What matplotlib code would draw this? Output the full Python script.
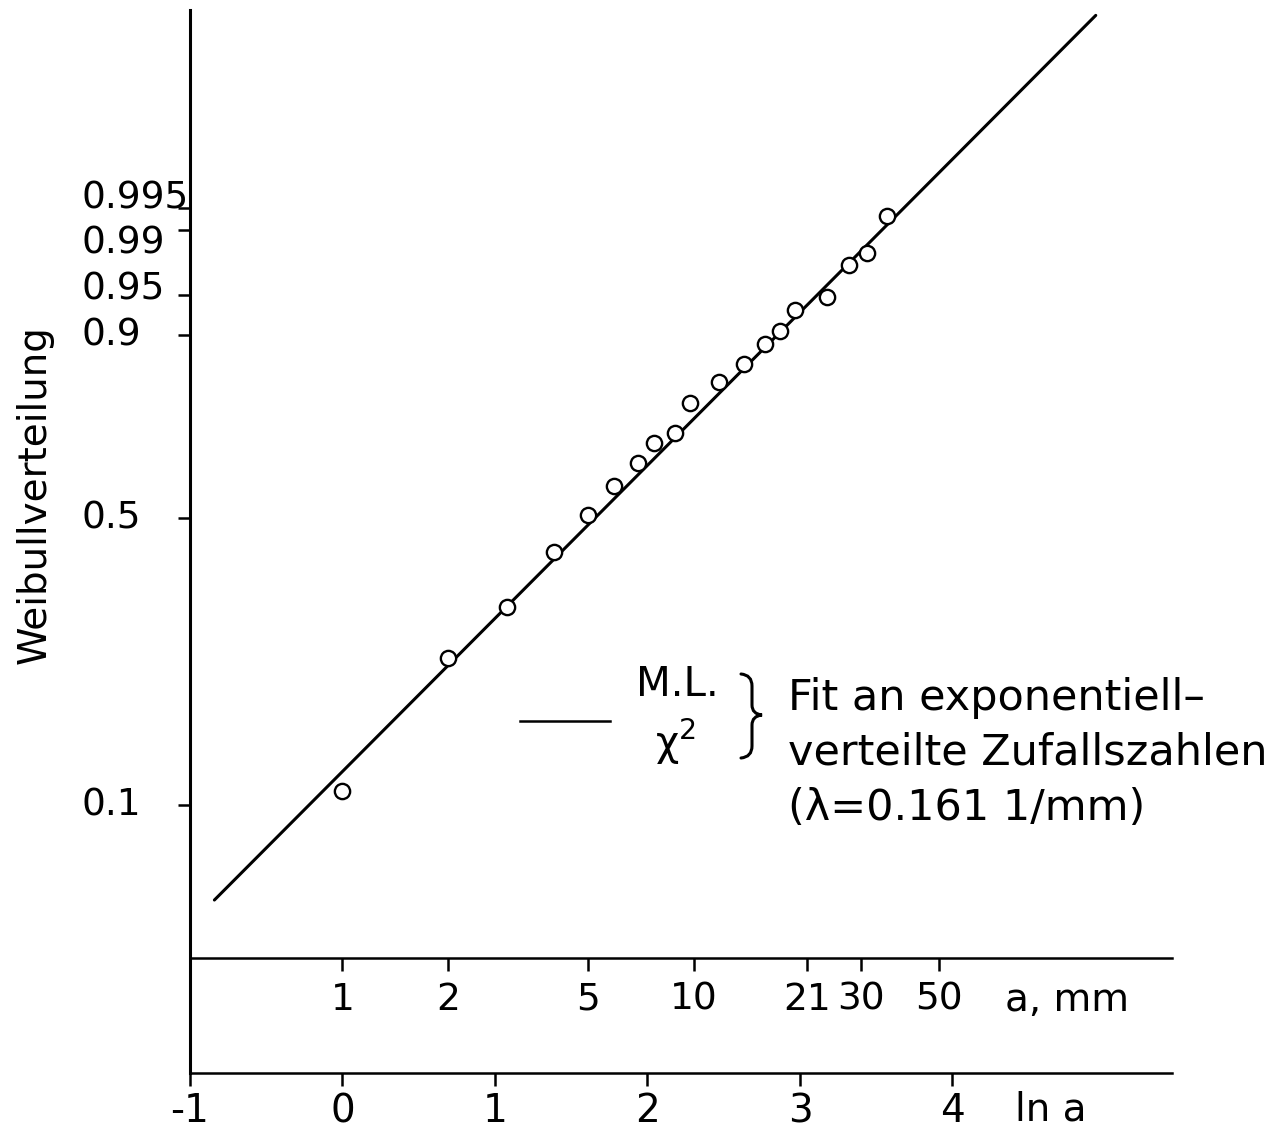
import numpy as np
import matplotlib.pyplot as plt
import matplotlib.transforms as mtransforms
from matplotlib.path import Path
from matplotlib.patches import PathPatch

plt.rcParams['font.family'] = 'DejaVu Sans'
plt.rcParams['axes.unicode_minus'] = False

#Messpunkte: ln a und empirische Verteilungsfunktion
ln_a = [0.00, 0.69, 1.08, 1.39, 1.61, 1.78, 1.94, 2.04, 2.18, 2.28,
        2.47, 2.63, 2.77, 2.87, 2.97, 3.18, 3.32, 3.44, 3.57]
F_emp = [0.109, 0.241, 0.321, 0.426, 0.507, 0.575, 0.630, 0.678, 0.702, 0.771,
         0.816, 0.852, 0.887, 0.906, 0.934, 0.948, 0.974, 0.981, 0.9935]

#Fitgerade im Weibullnetz (M.L. / chi^2)
fit_steigung = 1.005
fit_abschnitt = -2.03
fit_ln_a = [-0.84, 4.94]

#Achsenbeschriftung
F_ticks = [0.1, 0.5, 0.9, 0.95, 0.99, 0.995]
F_labels = ["0.1", "0.5", "0.9", "0.95", "0.99", "0.995"]
F_versatz = [0, 0, 0, 4, -10, 7]   # Punkte, damit sich die Zahlen nicht ueberlappen
lna_ticks = [-1, 0, 1, 2, 3, 4]
lna_labels = ["-1", "0", "1", "2", "3", "4"]
a_ticks = [1, 2, 5, 10, 21, 30, 50]


def weibull(F):
    F = np.asarray(F, dtype=float)
    return np.log(-np.log(1.0 - F))


fig = plt.figure(figsize=(12.73, 11.46), dpi=100)
ax = fig.add_axes([190 / 1273, 1 - 1073 / 1146, 982 / 1273, 1063 / 1146])
ax.set_xlim(-1.0, 5.44)
ax.set_ylim(-4.01, 2.97)

#Gerade und Punkte
fit_x = np.array(fit_ln_a)
fit_y = fit_abschnitt + fit_steigung * fit_x
ax.plot(fit_x, fit_y, color='black', lw=2.2, solid_capstyle='round', zorder=2)
ax.plot(ln_a, weibull(F_emp), 'o', ms=11, mfc='white', mec='black', mew=1.7, zorder=3)

#Achsen
ax.spines[['top', 'right']].set_visible(False)
ax.spines['left'].set_linewidth(2.2)
ax.spines['bottom'].set_linewidth(1.8)

ax.set_xticks(lna_ticks, lna_labels)
ax.tick_params(axis='x', direction='out', length=9, width=1.8, pad=5, labelsize=28)
ax.set_yticks(weibull(F_ticks))
ax.tick_params(axis='y', direction='out', length=9, width=1.8, labelleft=False)

trans = mtransforms.blended_transform_factory(fig.transFigure, ax.transData)
for F, lbl, dy in zip(F_ticks, F_labels, F_versatz):
    ax.annotate(lbl, xy=(82 / 1273, weibull(F)), xycoords=trans,
                xytext=(0, dy), textcoords='offset points',
                ha='left', va='center', fontsize=27, annotation_clip=False)

#zweite Skala in mm
sec = ax.secondary_xaxis(0.108, functions=(np.exp, np.log))
sec.set_xticks(a_ticks)
sec.set_xticklabels([str(a) for a in a_ticks])
sec.tick_params(direction='out', length=9, width=1.8, pad=8, labelsize=27)
sec.spines['bottom'].set_linewidth(1.8)

ax.text(0.830, 0.0687, "a, mm", transform=ax.transAxes, ha='left', va='center', fontsize=28)
ax.text(0.840, -0.0348, "ln a", transform=ax.transAxes, ha='left', va='center', fontsize=28)

#Legende
ax.plot([0.336, 0.428], [0.3311, 0.3311], transform=ax.transAxes, color='black', lw=1.8)
ax.text(0.496, 0.365, "M.L.", transform=ax.transAxes, ha='center', va='center', fontsize=29)
ax.text(0.494, 0.3114, "χ$^2$", transform=ax.transAxes, ha='center', va='center', fontsize=29)

#geschweifte Klammer als Pfad (Pixel -> Achsenanteil)
def px(x, y):
    return ((x - 190) / 982, (1073 - y) / 1063)

klammer = [px(741, 674), px(752, 675), px(752, 686), px(752, 705), px(752, 705),
           px(752, 714), px(762, 715), px(752, 716), px(752, 725), px(752, 725),
           px(752, 746), px(752, 757), px(741, 758)]
codes = [Path.MOVETO, Path.CURVE3, Path.CURVE3, Path.LINETO, Path.LINETO,
         Path.CURVE3, Path.CURVE3, Path.CURVE3, Path.CURVE3, Path.LINETO,
         Path.LINETO, Path.CURVE3, Path.CURVE3]
ax.add_patch(PathPatch(Path(klammer, codes), transform=ax.transAxes,
                       fill=False, lw=2.2, ec='black', capstyle='round'))

ax.text(0.609, 0.3415, "Fit an exponentiell–", transform=ax.transAxes, ha='left', va='baseline', fontsize=31)
ax.text(0.609, 0.2898, "verteilte Zufallszahlen", transform=ax.transAxes, ha='left', va='baseline', fontsize=31)
ax.text(0.609, 0.2380, "(λ=0.161 1/mm)", transform=ax.transAxes, ha='left', va='baseline', fontsize=31)

fig.text(35 / 1273, 1 - 495 / 1146, "Weibullverteilung", rotation=90,
         ha='center', va='center', fontsize=28)

fig.savefig("out.png", dpi=100)
